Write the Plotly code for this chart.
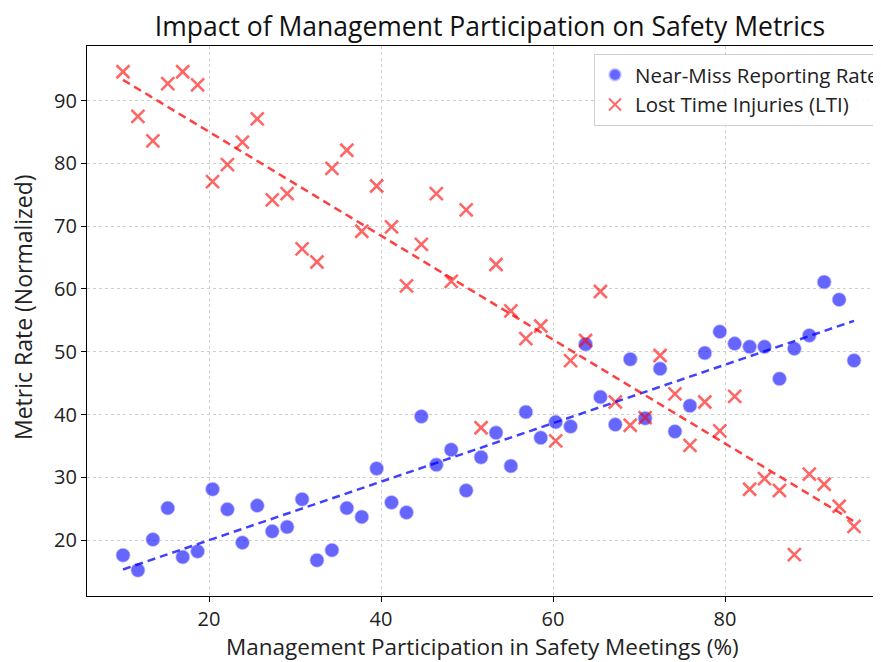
import numpy as np
import plotly.graph_objects as go

participation = [10.00, 11.73, 13.47, 15.20, 16.94, 18.67, 20.41, 22.14, 23.88, 25.61,
                 27.35, 29.08, 30.82, 32.55, 34.29, 36.02, 37.76, 39.49, 41.22, 42.96,
                 44.69, 46.43, 48.16, 49.90, 51.63, 53.37, 55.10, 56.84, 58.57, 60.31,
                 62.04, 63.78, 65.51, 67.24, 68.98, 70.71, 72.45, 74.18, 75.92, 77.65,
                 79.39, 81.12, 82.86, 84.59, 86.33, 88.06, 89.80, 91.53, 93.27, 95.00]

near_miss = [17.6, 15.2, 20.1, 25.1, 17.3, 18.2, 28.1, 24.9, 19.6, 25.5,
             21.4, 22.1, 26.5, 16.8, 18.4, 25.1, 23.7, 31.4, 26.0, 24.4,
             39.7, 32.0, 34.4, 27.9, 33.2, 37.1, 31.8, 40.4, 36.3, 38.8,
             38.1, 51.2, 42.8, 38.4, 48.8, 39.4, 47.3, 37.3, 41.4, 49.8,
             53.2, 51.3, 50.8, 50.8, 45.7, 50.5, 52.6, 61.1, 58.3, 48.6]

lti = [94.6, 87.5, 83.6, 92.7, 94.6, 92.5, 77.1, 79.8, 83.4, 87.1,
       74.2, 75.2, 66.4, 64.3, 79.2, 82.1, 69.2, 76.4, 69.9, 60.5,
       67.1, 75.2, 61.2, 72.6, 37.9, 63.9, 56.5, 52.1, 54.1, 35.8,
       48.6, 51.8, 59.6, 42.0, 38.3, 39.5, 49.4, 43.3, 35.1, 42.0,
       37.4, 42.9, 28.1, 29.8, 27.9, 17.7, 30.5, 28.9, 25.4, 22.2]

x_ticks = [20, 40, 60, 80]
y_ticks = [20, 30, 40, 50, 60, 70, 80, 90]

x = np.array(participation)
b_fit = np.polyval(np.polyfit(x, near_miss, 1), x)
r_fit = np.polyval(np.polyfit(x, lti, 1), x)

FONT = "'Open Sans', Roboto, sans-serif"
# page body has an 8px margin; the figure runs slightly past the window on the right
W, H = 883, 654
L, T, B = 79, 38, 66
PW, PH = W - L, H - T - B

fig = go.Figure()
fig.add_trace(go.Scatter(
    x=participation, y=near_miss, mode="markers", name="Near-Miss Reporting Rate",
    marker=dict(symbol="circle", size=14, color="rgba(0,0,255,0.6)",
                line=dict(width=1, color="rgba(200,200,255,0.7)"))))
fig.add_trace(go.Scatter(
    x=participation, y=lti, mode="markers", name="Lost Time Injuries (LTI)",
    marker=dict(symbol="x-thin", size=13, color="rgba(255,0,0,0.6)",
                line=dict(width=2.6, color="rgba(255,0,0,0.6)"))))
fig.add_trace(go.Scatter(
    x=[x[0], x[-1]], y=[b_fit[0], b_fit[-1]], mode="lines", showlegend=False,
    line=dict(color="rgba(0,0,255,0.75)", width=2.5, dash="8px,5px")))
fig.add_trace(go.Scatter(
    x=[x[0], x[-1]], y=[r_fit[0], r_fit[-1]], mode="lines", showlegend=False,
    line=dict(color="rgba(255,0,0,0.75)", width=2.5, dash="8px,5px")))

fig.update_layout(
    width=W, height=H,
    margin=dict(l=L, r=0, t=T, b=B),
    paper_bgcolor="white", plot_bgcolor="white",
    font=dict(family=FONT, color="#222", size=16),
    title=dict(text="Impact of Management Participation on Safety Metrics",
               x=482 / W, xanchor="center", y=1 - 19 / H, yanchor="middle",
               font=dict(size=26.5, color="#111")),
    legend=dict(x=1 - 6 / PW, xanchor="right", y=1 - 8 / PH, yanchor="top",
                bordercolor="#d0d0d0", borderwidth=1, bgcolor="rgba(255,255,255,0.85)",
                font=dict(size=20.5, color="#222"), itemsizing="constant",
                entrywidth=244, entrywidthmode="pixels", tracegroupgap=0),
    xaxis=dict(range=[5.81, 5.81 + PW / 8.6], tickvals=x_ticks,
               showgrid=True, gridcolor="#cfcfcf", griddash="dot", gridwidth=1,
               showline=True, linecolor="black", linewidth=1.2, mirror=True,
               ticks="outside", ticklen=5, tickcolor="black", zeroline=False,
               tickfont=dict(size=20, color="#222"), automargin=False),
    yaxis=dict(range=[11.1, 98.7], tickvals=y_ticks,
               showgrid=True, gridcolor="#cfcfcf", griddash="dot", gridwidth=1,
               showline=True, linecolor="black", linewidth=1.2, mirror=False,
               ticks="outside", ticklen=5, tickcolor="black", zeroline=False,
               tickfont=dict(size=20, color="#222"), automargin=False),
    annotations=[
        dict(text="Management Participation in Safety Meetings (%)",
             xref="paper", yref="paper", x=(474 - L) / PW, y=-(638 - (H - B)) / PH,
             xanchor="center", yanchor="middle", showarrow=False,
             font=dict(size=22.5, color="#222")),
        dict(text="Metric Rate (Normalized)", textangle=-90,
             xref="paper", yref="paper", x=-(L - 15) / PW, y=((H - B) - 299) / PH,
             xanchor="center", yanchor="middle", showarrow=False,
             font=dict(size=23, color="#222")),
    ],
)

fig.write_html("out.html")
